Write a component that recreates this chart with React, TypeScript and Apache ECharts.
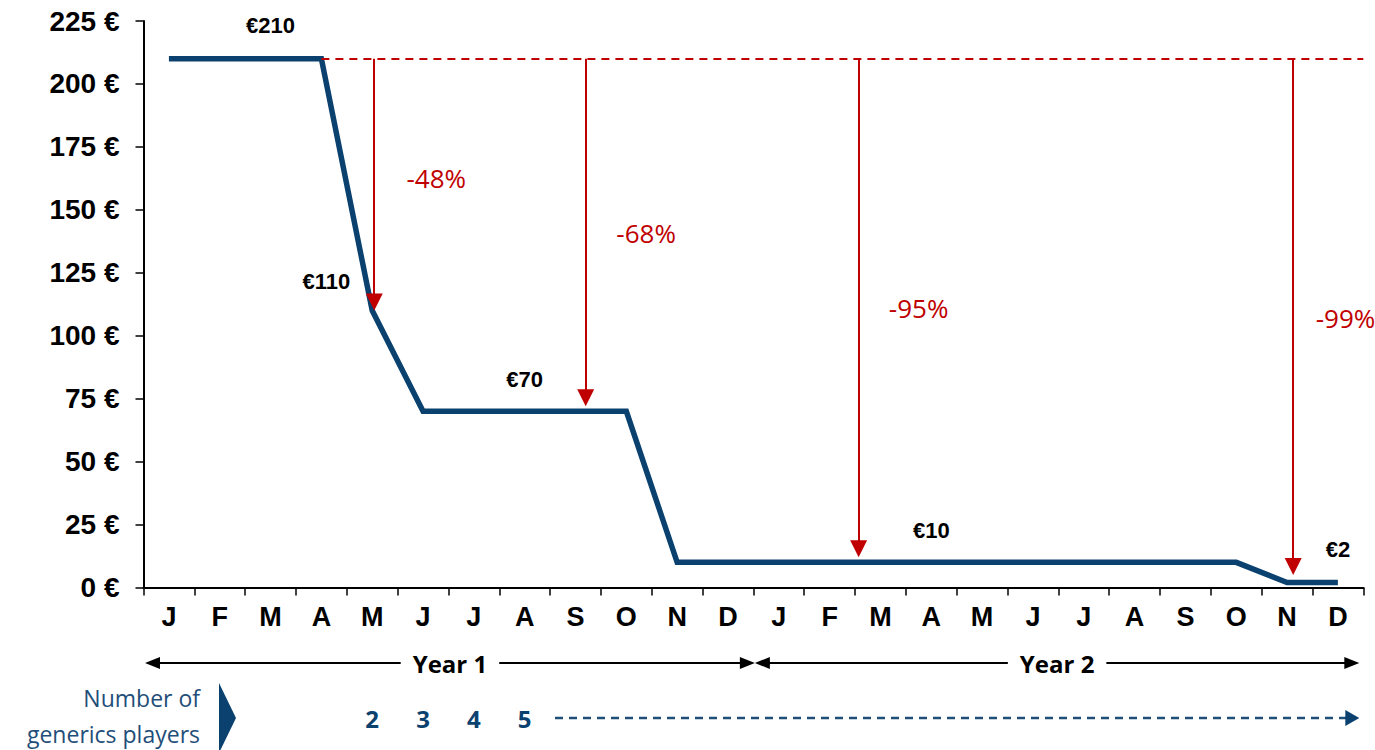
import React, { useEffect, useRef } from "react";
import * as echarts from "echarts";

// ---------- data ----------
const months = ["J", "F", "M", "A", "M", "J", "J", "A", "S", "O", "N", "D", "J", "F", "M", "A", "M", "J", "J", "A", "S", "O", "N", "D"];
const prices = [210, 210, 210, 210, 110, 70, 70, 70, 70, 70, 10, 10, 10, 10, 10, 10, 10, 10, 10, 10, 10, 10, 2, 2];
const yMin = 0;
const yMax = 225;
const yStep = 25;

const priceLabels = ["€210", "€110", "€70", "€10", "€2"];
const priceLabelX = [2, 3.1, 7, 15, 23];
const priceLabelY = [223.4, 121.4, 82.8, 22.8, 14.9];

const dropLabels = ["-48%", "-68%", "-95%", "-99%"];
const dropLabelX = [5.26, 9.39, 14.75, 23.15];
const dropLabelY = [162.6, 140.8, 111, 107];

const referencePrice = 210;
const referenceFrom = 3;
const referenceTo = 23.5;
const arrowX = [4.04, 8.2, 13.57, 22.12];
const arrowTo = [110, 72, 12, 5];

const yearLabels = ["Year 1", "Year 2"];
const playersTitle = ["Number of", "generics players"];
const playerCounts = ["2", "3", "4", "5"];
const playerFirstIndex = 4;

// ---------- styles ----------
const NAVY = "#0b416f";
const BLUE_TEXT = "#1f4e79";
const RED = "#c00000";
const ARIAL = "'Liberation Sans', Arial, sans-serif";
const CALIBRI = "'Open Sans', 'Noto Sans', sans-serif";
const ARROW_HEAD = 17;

export default function App() {
  const ref = useRef<HTMLDivElement>(null);

  useEffect(() => {
    if (!ref.current) return;
    const chart = echarts.init(ref.current, undefined, { renderer: "svg" });

    const arrowSeries = (ends: number[]) => ({
      id: "drops",
      type: "scatter",
      xAxisIndex: 1,
      silent: true,
      symbolSize: 0,
      itemStyle: { color: RED, opacity: 1 },
      data: dropLabels.map((t, i) => ({ name: t, value: [dropLabelX[i], dropLabelY[i]] })),
      label: {
        show: true,
        position: "inside",
        formatter: "{b}",
        color: RED,
        opacity: 1,
        textBorderWidth: 0,
        fontFamily: CALIBRI,
        fontSize: 26,
      },
      markLine: {
        silent: true,
        symbol: ["none", "triangle"],
        symbolSize: [ARROW_HEAD, ARROW_HEAD],
        label: { show: false },
        lineStyle: { color: RED, width: 2, type: "solid" },
        data: arrowX.map((x, i) => [
          { coord: [x, referencePrice] },
          { coord: [x, ends[i]] },
        ]),
      },
      z: 4,
    });

    const option: any = {
      animation: false,
      backgroundColor: "#ffffff",
      grid: { left: 143.5, right: 11.7, top: 21, bottom: 162.5, containLabel: false },
      xAxis: [
        {
          type: "category",
          data: months,
          boundaryGap: true,
          axisLine: { onZero: false, lineStyle: { color: "#000", width: 2 } },
          axisTick: { show: true, interval: 0, length: 8, lineStyle: { color: "#000", width: 1.5 } },
          axisLabel: { interval: 0, margin: 16, color: "#000", fontFamily: ARIAL, fontWeight: "bold", fontSize: 27 },
          splitLine: { show: false },
        },
        {
          type: "value",
          min: -0.5,
          max: 23.5,
          show: false,
          axisLine: { onZero: false },
          splitLine: { show: false },
        },
      ],
      yAxis: {
        type: "value",
        min: yMin,
        max: yMax,
        interval: yStep,
        axisLine: { show: true, onZero: false, lineStyle: { color: "#000", width: 2 } },
        axisTick: { show: true, length: 8, lineStyle: { color: "#000", width: 1.5 } },
        axisLabel: {
          margin: 24,
          color: "#000",
          fontFamily: ARIAL,
          fontWeight: "bold",
          fontSize: 28,
          formatter: (v: number) => `${v} €`,
        },
        splitLine: { show: false },
      },
      series: [
        {
          type: "line",
          data: prices,
          xAxisIndex: 0,
          symbol: "none",
          silent: true,
          lineStyle: { color: NAVY, width: 5.5, join: "miter" },
          z: 3,
        },
        {
          type: "scatter",
          xAxisIndex: 1,
          silent: true,
          symbolSize: 0,
          itemStyle: { color: "#000", opacity: 1 },
          data: priceLabels.map((t, i) => ({ name: t, value: [priceLabelX[i], priceLabelY[i]] })),
          label: {
            show: true,
            position: "inside",
            formatter: "{b}",
            color: "#000",
            opacity: 1,
            textBorderWidth: 0,
            fontFamily: ARIAL,
            fontWeight: "bold",
            fontSize: 22,
          },
          z: 5,
        },
        arrowSeries(arrowTo),
        {
          type: "scatter",
          xAxisIndex: 1,
          silent: true,
          data: [],
          markLine: {
            silent: true,
            symbol: ["none", "none"],
            label: { show: false },
            lineStyle: { color: RED, width: 2, type: [8, 6] },
            data: [[{ coord: [referenceFrom, referencePrice] }, { coord: [referenceTo, referencePrice] }]],
          },
          z: 2,
        },
      ],
    };
    chart.setOption(option);

    // the arrow head is centred on the line end: pull the end back by half a head so the tip meets the value
    const ends = arrowTo.map((v) => {
      const p = chart.convertToPixel({ yAxisIndex: 0 }, v) as number;
      return chart.convertFromPixel({ yAxisIndex: 0 }, p - ARROW_HEAD / 2) as number;
    });
    chart.setOption({ series: [option.series[0], option.series[1], arrowSeries(ends), option.series[3]] });

    const px = (idx: number) => chart.convertToPixel({ xAxisIndex: 1 }, idx) as number;
    const xStart = px(-0.5) + 1.5;
    const xMid = px(11.5) + 1.5;
    const xEnd = px(23.5) - 4;
    const yearY = 663;
    const head = (tipX: number, dir: number, y: number, color: string, len = 15, half = 6) => ({
      type: "polygon",
      silent: true,
      shape: { points: [[tipX, y], [tipX - dir * len, y - half], [tipX - dir * len, y + half]] },
      style: { fill: color },
    });

    const yearText = (text: string, x: number) => ({
      type: "text",
      silent: true,
      x,
      y: yearY,
      style: {
        text,
        align: "center",
        verticalAlign: "middle",
        font: `bold 24px ${CALIBRI}`,
        fill: "#000",
        backgroundColor: "#fff",
        padding: [0, 12],
      },
    });

    const graphics: any[] = [
      { type: "line", silent: true, shape: { x1: xStart + 5, y1: yearY, x2: xMid - 5, y2: yearY }, style: { stroke: "#000", lineWidth: 2 } },
      { type: "line", silent: true, shape: { x1: xMid + 5, y1: yearY, x2: xEnd - 5, y2: yearY }, style: { stroke: "#000", lineWidth: 2 } },
      head(xStart, -1, yearY, "#000"),
      head(xMid, 1, yearY, "#000"),
      head(xMid, -1, yearY, "#000"),
      head(xEnd, 1, yearY, "#000"),
      yearText(yearLabels[0], (xStart + xMid) / 2),
      yearText(yearLabels[1], (xMid + xEnd) / 2),
      {
        type: "text",
        silent: true,
        x: 200,
        y: 698,
        style: { text: playersTitle[0], align: "right", verticalAlign: "middle", font: `23px ${CALIBRI}`, fill: BLUE_TEXT },
      },
      {
        type: "text",
        silent: true,
        x: 200,
        y: 734,
        style: { text: playersTitle[1], align: "right", verticalAlign: "middle", font: `23px ${CALIBRI}`, fill: BLUE_TEXT },
      },
      {
        type: "polygon",
        silent: true,
        shape: { points: [[219, 683], [236, 718], [219, 753]] },
        style: { fill: NAVY },
      },
      ...playerCounts.map((t, i) => ({
        type: "text",
        silent: true,
        x: px(playerFirstIndex + i),
        y: 718,
        style: { text: t, align: "center", verticalAlign: "middle", font: `bold 24px ${CALIBRI}`, fill: NAVY },
      })),
      {
        type: "line",
        silent: true,
        shape: { x1: 555, y1: 718, x2: xEnd - 12, y2: 718 },
        style: { stroke: BLUE_TEXT, lineWidth: 2.5, lineDash: [8, 6] },
      },
      head(xEnd, 1, 718, NAVY, 14, 8),
    ];
    chart.setOption({ graphic: graphics });

    return () => chart.dispose();
  }, []);

  return (
    <div
      ref={ref}
      style={{ position: "fixed", left: 0, top: 0, width: 1375, height: 750, background: "#fff" }}
    />
  );
}
